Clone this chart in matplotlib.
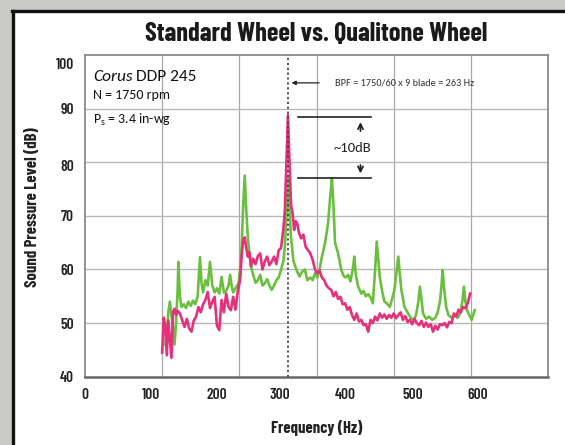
import matplotlib
matplotlib.use("Agg")
import matplotlib.pyplot as plt
from matplotlib.patches import Rectangle
from matplotlib.lines import Line2D

# ---------------- data ----------------
pink_f = [100, 102, 104, 106, 108, 110, 112, 114, 116, 118, 120, 123, 126, 129, 132, 135, 138, 141, 144, 147,
          150, 153, 156, 159, 162, 165, 168, 171, 174, 177, 180, 183, 186, 189, 192, 195, 198, 201, 203, 205,
          207, 209, 211, 213, 215, 218, 221, 224, 227, 230, 233, 236, 239, 242, 245, 248, 251, 254, 257, 259,
          261, 263, 265, 267, 269, 271, 273, 275, 277, 280, 283, 286, 289, 292, 295, 298, 301, 304, 307, 310,
          313, 316, 319, 322, 325, 328, 331, 334, 337, 340, 343, 346, 349, 352, 355, 358, 361, 364, 367, 370,
          373, 376, 379, 382, 385, 388, 391, 394, 397, 400, 403, 406, 409, 412, 415, 418, 421, 424, 427, 430,
          433, 436, 439, 442, 445, 448, 451, 454, 457, 460, 463, 466, 469, 472, 475, 478, 481, 484, 487, 490,
          493, 496, 499]
pink_db = [44.5, 51.0, 49.5, 44.0, 50.5, 47.0, 43.5, 52.0, 52.7, 51.5, 52.3, 51.8, 50.5, 49.3, 50.8, 49.0, 48.4, 50.5, 51.2, 53.0,
           52.0, 53.5, 54.3, 55.8, 52.8, 54.0, 54.9, 49.5, 48.7, 54.3, 52.0, 55.5, 53.0, 52.4, 54.9, 52.5, 56.0, 58.0, 62.5, 65.5,
           66.0, 64.0, 62.4, 63.2, 60.6, 62.0, 61.0, 62.5, 63.0, 60.0, 61.5, 62.4, 60.8, 61.5, 62.4, 61.0, 63.6, 64.0, 67.4, 71.0,
           80.0, 88.8, 80.0, 72.0, 70.5, 67.4, 69.0, 68.6, 67.0, 65.8, 66.5, 64.2, 63.6, 63.0, 61.8, 60.0, 59.3, 59.8, 58.5, 58.0,
           57.0, 56.5, 56.2, 55.0, 55.8, 54.5, 54.9, 53.5, 53.7, 52.5, 53.0, 51.5, 50.6, 51.8, 50.3, 50.6, 49.6, 49.8, 48.4, 50.6,
           50.0, 51.2, 50.5, 51.8, 51.0, 51.6, 50.8, 51.5, 51.0, 51.8, 50.9, 51.5, 52.0, 50.6, 51.3, 50.2, 50.6, 49.8, 50.8, 50.0,
           49.6, 50.4, 49.3, 50.1, 49.3, 49.8, 48.4, 49.5, 48.8, 49.8, 49.6, 50.0, 49.2, 50.2, 50.0, 51.8, 51.2, 52.5, 52.0, 53.0,
           52.8, 53.7, 55.5]

green_f = [104, 106, 108, 110, 112, 114, 116, 118, 120, 121, 123, 125, 128, 131, 134, 137, 140, 143, 146, 149,
           151, 153, 156, 159, 162, 165, 168, 171, 174, 177, 180, 183, 186, 188, 190, 192, 195, 199, 201, 203,
           205, 207, 209, 211, 213, 216, 218, 221, 224, 227, 230, 233, 236, 239, 242, 245, 248, 251, 254, 257,
           259, 261, 263, 265, 267, 270, 274, 278, 281, 285, 288, 292, 295, 298, 301, 304, 307, 311, 315, 318,
           320, 322, 324, 328, 332, 335, 338, 341, 344, 347, 349, 351, 354, 358, 361, 364, 367, 370, 373, 376,
           378, 380, 382, 385, 388, 391, 395, 398, 401, 404, 406, 408, 410, 414, 418, 422, 426, 429, 432, 434,
           436, 438, 442, 446, 450, 454, 457, 460, 462, 463.5, 465, 468, 471, 475, 479, 483, 486, 489, 491, 493,
           495, 498, 501, 503, 505]
green_db = [46.0, 48.1, 52.0, 54.0, 51.5, 49.3, 46.0, 50.0, 56.0, 61.4, 55.0, 53.0, 53.5, 52.8, 54.0, 53.2, 54.2, 53.5, 55.0, 62.3,
            57.5, 55.7, 58.0, 57.0, 61.4, 57.0, 55.7, 56.5, 55.5, 58.6, 55.7, 56.0, 57.0, 59.0, 57.0, 55.7, 56.5, 57.4, 60.0, 64.2,
            72.0, 77.5, 71.0, 66.0, 63.0, 60.0, 59.0, 57.5, 58.0, 59.0, 57.0, 57.4, 58.2, 57.0, 56.2, 57.0, 58.0, 58.5, 59.9, 61.5,
            64.2, 70.0, 77.0, 71.0, 66.0, 61.7, 59.9, 58.7, 59.5, 60.0, 58.0, 58.5, 58.0, 59.3, 58.5, 60.0, 62.4, 64.9, 68.6, 74.0,
            77.0, 72.0, 65.0, 63.0, 60.0, 58.8, 58.5, 59.0, 57.8, 60.0, 62.4, 59.0, 56.8, 55.5, 56.0, 55.0, 55.4, 54.8, 53.7, 60.0,
            65.2, 62.0, 58.6, 56.0, 54.0, 53.7, 53.0, 54.5, 56.2, 60.0, 62.4, 59.0, 56.2, 53.0, 52.0, 51.0, 50.6, 51.5, 54.0, 56.8,
            54.5, 51.8, 50.8, 51.2, 50.6, 51.0, 52.0, 54.0, 57.0, 59.9, 57.0, 53.0, 51.5, 51.0, 51.5, 51.0, 51.8, 54.0, 56.8, 54.0,
            52.4, 51.5, 50.6, 51.5, 52.4]

x_tick_pos = [0, 86, 171, 253, 337, 425, 509]
x_tick_labels = ["0", "100", "200", "300", "400", "500", "600"]
y_tick_pos = [40, 50, 60, 70, 79.4, 90, 98.5]
y_tick_labels = ["40", "50", "60", "70", "80", "90", "100"]
grid_x = [100, 200, 300, 400, 500]
grid_y = [50, 60, 70, 80, 90]
bpf = 263

title = "Standard Wheel vs. Qualitone Wheel"
xlabel = "Frequency (Hz)"
ylabel = "Sound Pressure Level (dB)"

# ---------------- figure ----------------
W, H = 565, 445
fig = plt.figure(figsize=(W / 100, H / 100), dpi=100)
fig.patch.set_facecolor("#c9c9c5")

# white panel (no edge) + black left and top border lines
x0, y0 = 13 / W, 1 - 11 / H
fig.patches.append(Rectangle((x0, 0), 1 - x0, y0, transform=fig.transFigure,
                             facecolor="white", edgecolor="none", zorder=-5))
fig.lines.append(Line2D([x0, x0], [0, y0], transform=fig.transFigure, color="#111111", lw=2.4, zorder=-4))
fig.lines.append(Line2D([x0 - 1.2 / W, 1], [y0, y0], transform=fig.transFigure, color="#111111", lw=2.4, zorder=-4))

cond = ["Barlow Condensed", "DejaVu Sans"]
inner = ["Carlito", "DejaVu Sans"]
plt.rcParams["mathtext.fontset"] = "custom"
plt.rcParams["mathtext.rm"] = "Carlito"

ax = fig.add_axes([85 / W, 1 - 376.7 / H, (548 - 85) / W, (376.7 - 55) / H])
ax.set_zorder(2)
ax.set_facecolor("white")
ax.set_xlim(0, 600)
ax.set_ylim(40, 100)

for v in grid_x:
    ax.axvline(v, color="#a8a8a8", lw=0.9, zorder=1)
for v in grid_y:
    ax.axhline(v, color="#b8b8b8", lw=1.0, zorder=1)

ax.axvline(bpf, color="#444444", lw=1.3, linestyle=(0, (1.2, 1.5)), zorder=4)

ax.plot(green_f, green_db, color="#6bbf3e", lw=1.9, zorder=2, solid_joinstyle="round")
ax.plot(pink_f, pink_db, color="#e5307b", lw=1.9, zorder=3, solid_joinstyle="round")

for s in ax.spines.values():
    s.set_color("#8a8a8a")
    s.set_linewidth(1.3)
ax.spines["bottom"].set_color("#666666")
ax.spines["bottom"].set_linewidth(1.8)

ax.set_xticks(x_tick_pos)
ax.set_xticklabels(x_tick_labels)
ax.set_yticks(y_tick_pos)
ax.set_yticklabels(y_tick_labels)
ax.tick_params(length=0, labelsize=11, colors="#222222")
ax.tick_params(axis="x", pad=8)
ax.tick_params(axis="y", pad=8)
for lab in ax.get_xticklabels() + ax.get_yticklabels():
    lab.set_family(cond)
    lab.set_fontweight("semibold")

ax.set_xlabel(xlabel, family=cond, fontweight="bold", fontsize=12, color="#222222")
ax.set_ylabel(ylabel, family=cond, fontweight="bold", fontsize=12, color="#222222")
ax.yaxis.set_label_coords(-(85 - 33) / (548 - 85), (376.7 - 207) / (376.7 - 55))
ax.xaxis.set_label_coords(0.5, -(428 - 376.7) / (376.7 - 55))
ax.xaxis.label.set_va("center")
ax.yaxis.label.set_va("center")

fig.text(0.5 * (85 + 548) / W, 1 - 34 / H, title, family=cond, fontweight="bold",
         fontsize=19, ha="center", va="center", color="#1a1a1a")

# inner chart texts
ax.text(10.4, 95.9, "Corus", family=inner, style="italic", fontsize=12.5, va="center", ha="left", color="#111111", zorder=5)
ax.text(66, 95.9, "DDP 245", family=inner, fontsize=12.5, va="center", ha="left", color="#111111", zorder=5)
ax.text(10.4, 92.5, "N = 1750 rpm", family=inner, fontsize=10, va="center", ha="left", color="#111111", zorder=5)
ax.text(10.4, 87.9, r"$\mathregular{P_s}$ = 3.4 in-wg", family=inner, fontsize=10, va="center", ha="left",
        color="#111111", zorder=5)

# BPF annotation
ax.annotate("", xy=(bpf + 1, 94.8), xytext=(307, 94.8),
            arrowprops=dict(arrowstyle="-|>", color="#222222", lw=0.9, mutation_scale=6))
ax.text(324, 94.8, "BPF = 1750/60 x 9 blade = 263 Hz", family=inner, fontsize=7.4, va="center", ha="left",
        color="#333333")

# ~10dB annotation
ax.plot([276, 370], [88.4, 88.4], color="#222222", lw=1.2, zorder=5)
ax.plot([276, 370], [77.0, 77.0], color="#222222", lw=1.2, zorder=5)
ax.annotate("", xy=(357, 88.0), xytext=(357, 85.3),
            arrowprops=dict(arrowstyle="->", color="#222222", lw=1.3, mutation_scale=9))
ax.annotate("", xy=(357, 77.4), xytext=(357, 80.0),
            arrowprops=dict(arrowstyle="->", color="#222222", lw=1.3, mutation_scale=9))
ax.text(346, 82.6, "~10dB", family=inner, fontsize=10.5, va="center", ha="center", color="#222222")

fig.savefig("out.png", dpi=100, facecolor=fig.get_facecolor())
